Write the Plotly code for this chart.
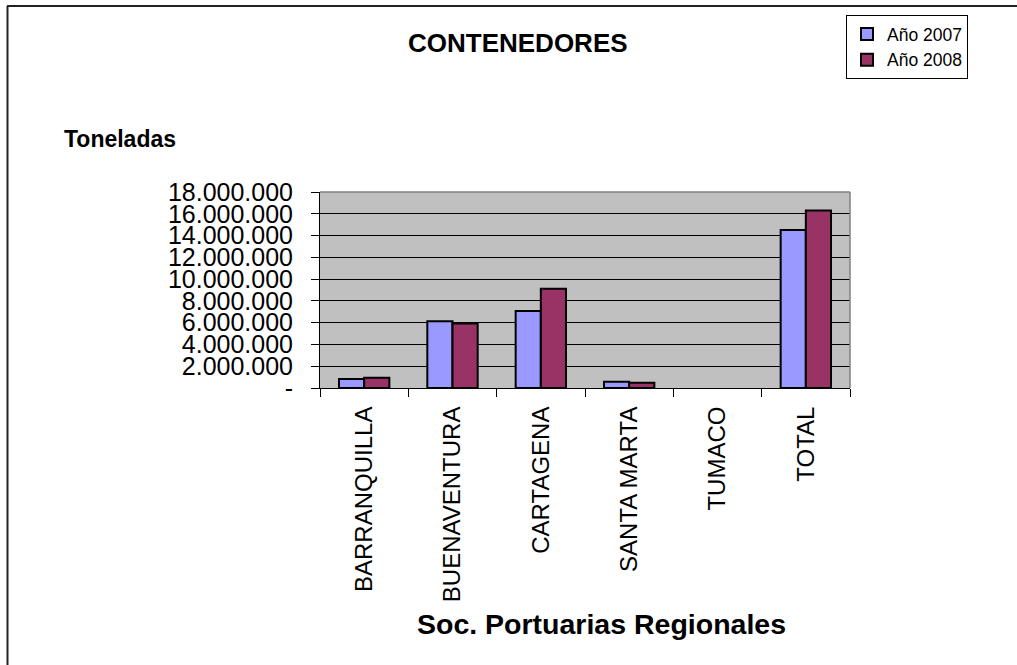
import plotly.graph_objects as go

categories = ["BARRANQUILLA", "BUENAVENTURA", "CARTAGENA", "SANTA MARTA", "TUMACO", "TOTAL"]
values_2007 = [830000, 6130000, 7060000, 580000, None, 14500000]
values_2008 = [950000, 5920000, 9110000, 490000, None, 16300000]
series_names = ["Año 2007", "Año 2008"]
y_tick_values = [0, 2000000, 4000000, 6000000, 8000000, 10000000, 12000000, 14000000, 16000000, 18000000]


def fmt(v):
    return "-" if v == 0 else f"{v:,.0f}".replace(",", ".")


y_tick_text = [fmt(v) for v in y_tick_values]

W, H = 1017, 665
L, R, T, B = 320, 850, 192, 388
FONT = "Liberation Sans, Arial, sans-serif"


def px_x(px):
    return (px - L) / (R - L)


def px_y(py):
    return (B - py) / (B - T)


fig = go.Figure()
fig.add_trace(go.Bar(x=categories, y=values_2007, name=series_names[0], legendgroup="a",
                     marker=dict(color="#9999FF", line=dict(color="black", width=2))))
fig.add_trace(go.Bar(x=categories, y=values_2008, name=series_names[1], legendgroup="b",
                     marker=dict(color="#993366", line=dict(color="black", width=2))))

fig.update_layout(
    width=W, height=H,
    margin=dict(l=L, r=W - R, t=T, b=H - B, pad=0),
    paper_bgcolor="white",
    plot_bgcolor="#C0C0C0",
    barmode="group",
    bargap=0.43,
    bargroupgap=0,
    font=dict(family=FONT, color="black"),
    showlegend=True,
    hovermode=False,
    legend=dict(
        x=px_x(846), y=px_y(15), xanchor="left", yanchor="top",
        bgcolor="white", bordercolor="black", borderwidth=1,
        font=dict(size=17.5, family=FONT, color="black"),
        traceorder="normal",
        tracegroupgap=5,
        itemwidth=30,
    ),
)

fig.update_yaxes(
    range=[0, 18000000],
    tickvals=y_tick_values, ticktext=y_tick_text,
    tickfont=dict(size=25, family=FONT, color="black"),
    ticks="outside", ticklen=8, tickcolor="black", tickwidth=1,
    ticklabelstandoff=13,
    showgrid=True, gridcolor="black", gridwidth=1,
    showline=True, linecolor="black", linewidth=1,
    zeroline=False,
)
fig.update_xaxes(
    tickangle=-90,
    tickfont=dict(size=24, family=FONT, color="black"),
    ticks="outside", ticklen=8, tickcolor="black", tickwidth=1,
    tickson="boundaries",
    ticklabelstandoff=8,
    showgrid=False,
    showline=True, linecolor="black", linewidth=1,
    zeroline=False,
)

# Plot-area border (top and right, gray)
fig.add_shape(type="line", xref="paper", yref="paper", x0=0, x1=1, y0=1, y1=1,
              line=dict(color="#808080", width=1.5), layer="above")
fig.add_shape(type="line", xref="paper", yref="paper", x0=1, x1=1, y0=0, y1=1,
              line=dict(color="#808080", width=1.5), layer="above")

# Chart outer frame (top and left)
fig.add_shape(type="line", xref="paper", yref="paper", x0=px_x(7), x1=px_x(W + 5), y0=px_y(6), y1=px_y(6),
              line=dict(color="#222222", width=2), layer="above")
fig.add_shape(type="line", xref="paper", yref="paper", x0=px_x(7.5), x1=px_x(7.5), y0=px_y(6), y1=px_y(H + 5),
              line=dict(color="#222222", width=2), layer="above")

fig.add_annotation(text="<b>CONTENEDORES</b>", xref="paper", yref="paper",
                   x=px_x(518), y=px_y(43), xanchor="center", yanchor="middle",
                   showarrow=False, font=dict(size=26, family=FONT, color="black"))
fig.add_annotation(text="<b>Toneladas</b>", xref="paper", yref="paper",
                   x=px_x(62), y=px_y(139), xanchor="left", yanchor="middle",
                   showarrow=False, font=dict(size=23, family=FONT, color="black"))
fig.add_annotation(text="<b>Soc. Portuarias Regionales</b>", xref="paper", yref="paper",
                   x=px_x(601), y=px_y(624), xanchor="center", yanchor="middle",
                   showarrow=False, font=dict(size=28.5, family=FONT, color="black"))

fig.write_html("out.html", config={"displayModeBar": False, "staticPlot": True},
               post_script="document.body.style.margin='0';document.body.style.overflow='hidden';")
